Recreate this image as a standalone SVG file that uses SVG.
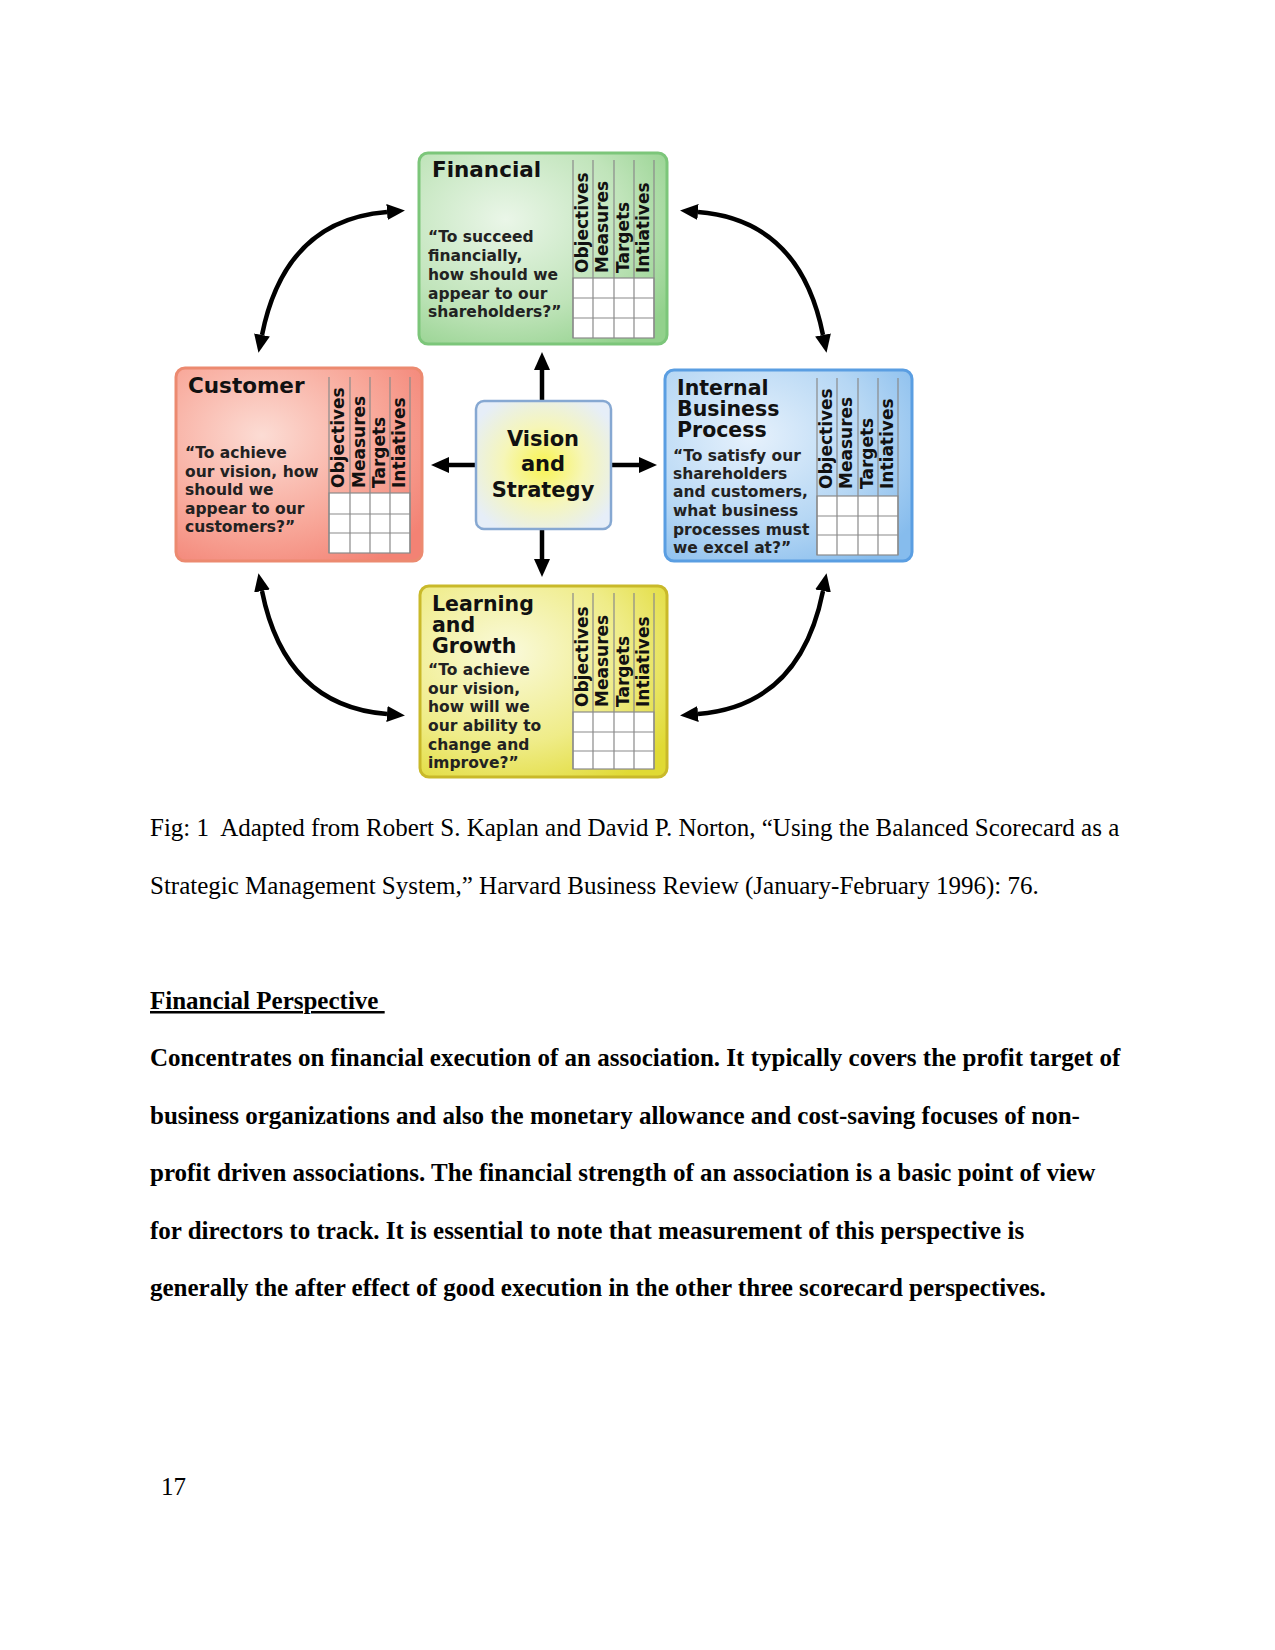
<svg xmlns="http://www.w3.org/2000/svg" width="1275" height="1650" viewBox="0 0 1275 1650">
<style>
.title{font-family:"DejaVu Sans",Verdana,sans-serif;font-weight:bold;font-size:21.5px;fill:#111}
.t2{font-size:20.5px}
.quote{font-family:"DejaVu Sans",Verdana,sans-serif;font-weight:bold;font-size:15.5px;fill:#222}
.col{font-family:"DejaVu Sans",Verdana,sans-serif;font-weight:bold;font-size:17px;fill:#111}
.vis{font-family:"DejaVu Sans",Verdana,sans-serif;font-weight:bold;font-size:21px;fill:#111;text-anchor:middle}
.grid{fill:#fff;stroke:#8a8a8a;stroke-width:1.2}
.vl{stroke:#8a8a8a;stroke-width:1.2}
.conn{fill:none;stroke:#000;stroke-width:4.5}
.serif{font-family:"Liberation Serif","Times New Roman",serif;font-size:25px;fill:#000}
.bold{font-weight:bold}
</style>
<defs>
<radialGradient id="gFin" cx="0.35" cy="0.35" r="0.8">
<stop offset="0" stop-color="#eaf6e8"/><stop offset="0.6" stop-color="#c0e4ba"/><stop offset="1" stop-color="#92d18c"/>
</radialGradient>
<radialGradient id="gCus" cx="0.35" cy="0.35" r="0.8">
<stop offset="0" stop-color="#fcdcd4"/><stop offset="0.6" stop-color="#f8a89a"/><stop offset="1" stop-color="#f38274"/>
</radialGradient>
<radialGradient id="gInt" cx="0.35" cy="0.35" r="0.8">
<stop offset="0" stop-color="#e6f1fc"/><stop offset="0.6" stop-color="#b6d7f4"/><stop offset="1" stop-color="#86bced"/>
</radialGradient>
<radialGradient id="gLrn" cx="0.35" cy="0.35" r="0.8">
<stop offset="0" stop-color="#fafadc"/><stop offset="0.6" stop-color="#efec88"/><stop offset="1" stop-color="#e0da34"/>
</radialGradient>
<radialGradient id="gVis" cx="0.5" cy="0.5" r="0.6">
<stop offset="0" stop-color="#f8f450"/><stop offset="0.5" stop-color="#f6f6b8"/><stop offset="1" stop-color="#e6eef8"/>
</radialGradient>
<marker id="ah" viewBox="0 0 18 16" refX="0" refY="8" markerWidth="18" markerHeight="16" markerUnits="userSpaceOnUse" orient="auto-start-reverse">
<path d="M0,0 L18,8 L0,16 z" fill="#000"/>
</marker>
</defs>
<rect width="1275" height="1650" fill="#fff"/>

<g id="connectors">
<path class="conn" d="M262,335 Q285,220 387,212" marker-start="url(#ah)" marker-end="url(#ah)"/>
<path class="conn" d="M823,335 Q800,220 698,212" marker-start="url(#ah)" marker-end="url(#ah)"/>
<path class="conn" d="M262,591 Q285,706 387,714" marker-start="url(#ah)" marker-end="url(#ah)"/>
<path class="conn" d="M823,591 Q800,706 698,714" marker-start="url(#ah)" marker-end="url(#ah)"/>
<path class="conn" d="M542,400 L542,370" marker-end="url(#ah)"/>
<path class="conn" d="M542,530 L542,559" marker-end="url(#ah)"/>
<path class="conn" d="M475,465 L449,465" marker-end="url(#ah)"/>
<path class="conn" d="M612,465 L639,465" marker-end="url(#ah)"/>
</g>

<g id="financial">
<rect x="419" y="153" width="248" height="191" rx="9" fill="url(#gFin)" stroke="#7cc67a" stroke-width="3"/>
<text class="title" x="432" y="177">Financial</text>
<text class="quote" x="428" y="242">“To succeed</text>
<text class="quote" x="428" y="261">financially,</text>
<text class="quote" x="428" y="280">how should we</text>
<text class="quote" x="428" y="299">appear to our</text>
<text class="quote" x="428" y="317">shareholders?”</text>
<rect class="grid" x="573" y="278" width="81" height="60"/>
<path class="vl" d="M573,160V338M593,160V338M614,160V338M634,160V338M654,160V338M573,298H654M573,318H654"/>
<text class="col" transform="translate(588,273) rotate(-90)">Objectives</text>
<text class="col" transform="translate(608,273) rotate(-90)">Measures</text>
<text class="col" transform="translate(629,273) rotate(-90)">Targets</text>
<text class="col" transform="translate(649,273) rotate(-90)">Intiatives</text>
</g>

<g id="customer">
<rect x="176" y="368" width="246" height="193" rx="9" fill="url(#gCus)" stroke="#ec8a70" stroke-width="3"/>
<text class="title" x="188" y="393">Customer</text>
<text class="quote" x="185" y="458">“To achieve</text>
<text class="quote" x="185" y="477">our vision, how</text>
<text class="quote" x="185" y="495">should we</text>
<text class="quote" x="185" y="514">appear to our</text>
<text class="quote" x="185" y="532">customers?”</text>
<rect class="grid" x="329" y="493" width="81" height="60"/>
<path class="vl" d="M329,377V553M350,377V553M370,377V553M390,377V553M410,377V553M329,514H410M329,533H410"/>
<text class="col" transform="translate(344,488) rotate(-90)">Objectives</text>
<text class="col" transform="translate(365,488) rotate(-90)">Measures</text>
<text class="col" transform="translate(385,488) rotate(-90)">Targets</text>
<text class="col" transform="translate(405,488) rotate(-90)">Intiatives</text>
</g>

<g id="internal">
<rect x="665" y="370" width="247" height="191" rx="9" fill="url(#gInt)" stroke="#5a9ee2" stroke-width="3"/>
<text class="title t2" x="677" y="395">Internal</text>
<text class="title t2" x="677" y="416">Business</text>
<text class="title t2" x="677" y="437">Process</text>
<text class="quote" x="673" y="461">“To satisfy our</text>
<text class="quote" x="673" y="479">shareholders</text>
<text class="quote" x="673" y="497">and customers,</text>
<text class="quote" x="673" y="516">what business</text>
<text class="quote" x="673" y="535">processes must</text>
<text class="quote" x="673" y="553">we excel at?”</text>
<rect class="grid" x="817" y="496" width="81" height="59"/>
<path class="vl" d="M817,378V555M837,378V555M858,378V555M878,378V555M898,378V555M817,516H898M817,535H898"/>
<text class="col" transform="translate(832,489) rotate(-90)">Objectives</text>
<text class="col" transform="translate(852,489) rotate(-90)">Measures</text>
<text class="col" transform="translate(873,489) rotate(-90)">Targets</text>
<text class="col" transform="translate(893,489) rotate(-90)">Intiatives</text>
</g>

<g id="learning">
<rect x="420" y="586" width="247" height="191" rx="9" fill="url(#gLrn)" stroke="#c9b92a" stroke-width="3"/>
<text class="title t2" x="432" y="611">Learning</text>
<text class="title t2" x="432" y="632">and</text>
<text class="title t2" x="432" y="653">Growth</text>
<text class="quote" x="428" y="675">“To achieve</text>
<text class="quote" x="428" y="694">our vision,</text>
<text class="quote" x="428" y="712">how will we</text>
<text class="quote" x="428" y="731">our ability to</text>
<text class="quote" x="428" y="750">change and</text>
<text class="quote" x="428" y="768">improve?”</text>
<rect class="grid" x="573" y="712" width="81" height="57"/>
<path class="vl" d="M573,593V769M593,593V769M614,593V769M634,593V769M654,593V769M573,732H654M573,751H654"/>
<text class="col" transform="translate(588,707) rotate(-90)">Objectives</text>
<text class="col" transform="translate(608,707) rotate(-90)">Measures</text>
<text class="col" transform="translate(629,707) rotate(-90)">Targets</text>
<text class="col" transform="translate(649,707) rotate(-90)">Intiatives</text>
</g>

<g id="vision">
<rect x="476" y="401" width="135" height="128" rx="8" fill="url(#gVis)" stroke="#86a8d2" stroke-width="2.5"/>
<text class="vis" x="543" y="446">Vision</text>
<text class="vis" x="543" y="471">and</text>
<text class="vis" x="543" y="497">Strategy</text>
</g>

<g id="page-text">
<text class="serif" x="150" y="836" xml:space="preserve">Fig: 1  Adapted from Robert S. Kaplan and David P. Norton, “Using the Balanced Scorecard as a</text>
<text class="serif" x="150" y="894">Strategic Management System,” Harvard Business Review (January-February 1996): 76.</text>
<text class="serif bold" x="150" y="1009" text-decoration="underline" xml:space="preserve">Financial Perspective </text>
<text class="serif bold" x="150" y="1066">Concentrates on financial execution of an association. It typically covers the profit target of</text>
<text class="serif bold" x="150" y="1124">business organizations and also the monetary allowance and cost-saving focuses of non-</text>
<text class="serif bold" x="150" y="1181">profit driven associations. The financial strength of an association is a basic point of view</text>
<text class="serif bold" x="150" y="1239">for directors to track. It is essential to note that measurement of this perspective is</text>
<text class="serif bold" x="150" y="1296">generally the after effect of good execution in the other three scorecard perspectives.</text>
<text class="serif" x="161" y="1495" font-size="20">17</text>
</g>
</svg>
